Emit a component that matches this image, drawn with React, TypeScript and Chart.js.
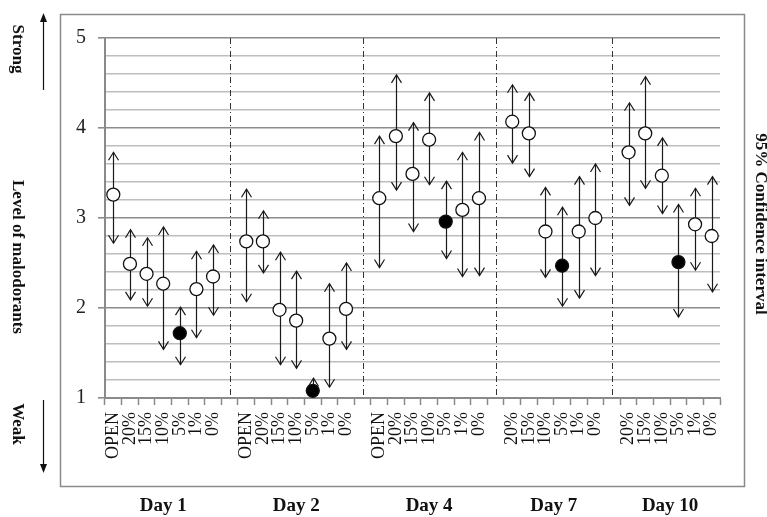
import React, { useEffect, useRef } from 'react';
import { Chart, registerables } from 'chart.js';

Chart.register(...registerables);

// ---- data ----
const groupNames = ['Day 1', 'Day 2', 'Day 4', 'Day 7', 'Day 10'];

const labelsDay1 = ['OPEN', '20%', '15%', '10%', '5%', '1%', '0%'];
const labelsDay2 = ['OPEN', '20%', '15%', '10%', '5%', '1%', '0%'];
const labelsDay4 = ['OPEN', '20%', '15%', '10%', '5%', '1%', '0%'];
const labelsDay7 = ['20%', '15%', '10%', '5%', '1%', '0%'];
const labelsDay10 = ['20%', '15%', '10%', '5%', '1%', '0%'];

const meanDay1 = [3.26, 2.49, 2.38, 2.27, 1.72, 2.21, 2.35];
const upperDay1 = [3.73, 2.87, 2.78, 2.9, 2.01, 2.63, 2.7];
const lowerDay1 = [2.72, 2.09, 2.02, 1.54, 1.37, 1.67, 1.92];

const meanDay2 = [2.74, 2.74, 1.98, 1.86, 1.08, 1.66, 1.99];
const upperDay2 = [3.32, 3.08, 2.62, 2.41, 1.22, 2.27, 2.5];
const lowerDay2 = [2.07, 2.39, 1.37, 1.33, 0.9, 1.12, 1.54];

const meanDay4 = [3.22, 3.91, 3.49, 3.87, 2.96, 3.09, 3.22];
const upperDay4 = [3.91, 4.59, 4.06, 4.39, 3.41, 3.73, 3.95];
const lowerDay4 = [2.45, 3.31, 2.85, 3.37, 2.55, 2.35, 2.36];

const meanDay7 = [4.07, 3.94, 2.85, 2.47, 2.85, 3.0];
const upperDay7 = [4.48, 4.39, 3.34, 3.12, 3.46, 3.6];
const lowerDay7 = [3.61, 3.46, 2.34, 2.02, 2.11, 2.36];

const meanDay10 = [3.73, 3.94, 3.47, 2.51, 2.93, 2.8];
const upperDay10 = [4.28, 4.57, 3.89, 3.15, 3.33, 3.46];
const lowerDay10 = [3.14, 3.33, 3.05, 1.9, 2.42, 2.18];

const highlightLabel = '5%';
const yMin = 1;
const yMax = 5;
const yStep = 0.2;

const leftTitle = 'Level of malodorants';
const rightTitle = '95% Confidence interval';
const strongText = 'Strong';
const weakText = 'Weak';

// ---- build flattened category arrays (blank separator category between days) ----
const groups = [
  { name: groupNames[0], labels: labelsDay1, mean: meanDay1, upper: upperDay1, lower: lowerDay1 },
  { name: groupNames[1], labels: labelsDay2, mean: meanDay2, upper: upperDay2, lower: lowerDay2 },
  { name: groupNames[2], labels: labelsDay4, mean: meanDay4, upper: upperDay4, lower: lowerDay4 },
  { name: groupNames[3], labels: labelsDay7, mean: meanDay7, upper: upperDay7, lower: lowerDay7 },
  { name: groupNames[4], labels: labelsDay10, mean: meanDay10, upper: upperDay10, lower: lowerDay10 },
];

const categories: string[] = [];
const means: (number | null)[] = [];
const uppers: (number | null)[] = [];
const lowers: (number | null)[] = [];
const separators: number[] = [];
const groupCenters: { name: string; center: number }[] = [];

groups.forEach((g, gi) => {
  if (gi > 0) {
    separators.push(categories.length);
    categories.push('');
    means.push(null);
    uppers.push(null);
    lowers.push(null);
  }
  const start = categories.length;
  g.labels.forEach((l, i) => {
    categories.push(l);
    means.push(g.mean[i]);
    uppers.push(g.upper[i]);
    lowers.push(g.lower[i]);
  });
  groupCenters.push({ name: g.name, center: start + (g.labels.length - 1) / 2 });
});

const SERIF = '"Liberation Serif", "DejaVu Serif", serif';

const isInt = (v: number) => Math.abs(v - Math.round(v)) < 1e-6;

const overlayPlugin = {
  id: 'overlay',
  beforeDatasetsDraw(chart: any) {
    const { ctx, chartArea, scales } = chart;
    const x = scales.x;
    const y = scales.y;
    ctx.save();
    ctx.beginPath();
    ctx.rect(chartArea.left, chartArea.top, chartArea.right - chartArea.left, chartArea.bottom - chartArea.top);
    ctx.clip();

    // dash-dot separators
    ctx.strokeStyle = '#333';
    ctx.lineWidth = 1;
    ctx.setLineDash([6, 3, 1, 3]);
    separators.forEach((i) => {
      const px = Math.round(x.getPixelForValue(i)) + 0.5;
      ctx.beginPath();
      ctx.moveTo(px, y.getPixelForValue(yMax));
      ctx.lineTo(px, y.getPixelForValue(yMin));
      ctx.stroke();
    });
    ctx.setLineDash([]);

    // confidence interval arrows
    ctx.strokeStyle = '#1a1a1a';
    ctx.lineWidth = 1.2;
    means.forEach((m, i) => {
      if (m == null) return;
      const px = Math.round(x.getPixelForValue(i)) + 0.5;
      const yh = y.getPixelForValue(uppers[i] as number);
      const yl = y.getPixelForValue(lowers[i] as number);
      ctx.beginPath();
      ctx.moveTo(px, yh);
      ctx.lineTo(px, yl);
      ctx.stroke();
      ctx.beginPath();
      ctx.moveTo(px - 5, yh + 8);
      ctx.lineTo(px, yh);
      ctx.lineTo(px + 5, yh + 8);
      ctx.stroke();
      ctx.beginPath();
      ctx.moveTo(px - 5, yl - 8);
      ctx.lineTo(px, yl);
      ctx.lineTo(px + 5, yl - 8);
      ctx.stroke();
    });
    ctx.restore();
  },
  afterDraw(chart: any) {
    const { ctx, scales } = chart;
    const x = scales.x;
    ctx.save();
    // outer frame
    ctx.strokeStyle = '#8a8a8a';
    ctx.lineWidth = 1.5;
    ctx.strokeRect(60.5, 14.5, 684, 472);

    // day labels
    ctx.fillStyle = '#111';
    ctx.font = `bold 19px ${SERIF}`;
    ctx.textAlign = 'center';
    ctx.textBaseline = 'middle';
    groupCenters.forEach((g) => {
      ctx.fillText(g.name, x.getPixelForValue(g.center), 506);
    });

    // vertical texts (reading downwards)
    ctx.font = `bold 17px ${SERIF}`;
    const vtext = (t: string, cx: number, cy: number) => {
      ctx.save();
      ctx.translate(cx, cy);
      ctx.rotate(Math.PI / 2);
      ctx.fillText(t, 0, 0);
      ctx.restore();
    };
    vtext(strongText, 17, 49);
    vtext(leftTitle, 17, 257);
    vtext(weakText, 17, 424);
    vtext(rightTitle, 760, 224);

    // strong / weak arrows
    ctx.strokeStyle = '#111';
    ctx.lineWidth = 1.2;
    ctx.beginPath();
    ctx.moveTo(43.5, 90);
    ctx.lineTo(43.5, 20);
    ctx.stroke();
    ctx.beginPath();
    ctx.moveTo(43.5, 13);
    ctx.lineTo(40, 22);
    ctx.lineTo(47, 22);
    ctx.closePath();
    ctx.fill();

    ctx.beginPath();
    ctx.moveTo(43.5, 400);
    ctx.lineTo(43.5, 466);
    ctx.stroke();
    ctx.beginPath();
    ctx.moveTo(43.5, 473);
    ctx.lineTo(40, 464);
    ctx.lineTo(47, 464);
    ctx.closePath();
    ctx.fill();
    ctx.restore();
  },
};

export default function App() {
  const canvasRef = useRef<HTMLCanvasElement | null>(null);

  useEffect(() => {
    if (!canvasRef.current) return;
    const chart = new Chart(canvasRef.current, {
      type: 'line',
      data: {
        labels: categories,
        datasets: [
          {
            label: 'mean',
            data: means,
            showLine: false,
            pointRadius: 6.5,
            pointHoverRadius: 6.5,
            pointBorderWidth: 1.3,
            pointBorderColor: '#111',
            pointBackgroundColor: (c: any) => (categories[c.dataIndex] === highlightLabel ? '#000' : '#fff'),
          } as any,
        ],
      },
      options: {
        responsive: false,
        animation: false,
        devicePixelRatio: 1,
        layout: { padding: { left: 60, right: 47, top: 38, bottom: 39 } },
        plugins: { legend: { display: false }, tooltip: { enabled: false } },
        scales: {
          x: {
            type: 'category',
            offset: true,
            grid: {
              offset: true,
              drawOnChartArea: false,
              drawTicks: true,
              tickLength: 7,
              tickColor: '#8a8a8a',
              tickWidth: 1.5,
            },
            border: { color: '#8a8a8a', width: 2 },
            ticks: {
              autoSkip: false,
              minRotation: 90,
              maxRotation: 90,
              padding: 7,
              color: '#111',
              font: { family: SERIF, size: 18 },
            },
            afterFit(scale: any) {
              scale.height = 80;
              scale.paddingLeft = 0;
              scale.paddingRight = 0;
            },
          },
          y: {
            min: yMin,
            max: yMax,
            grid: {
              color: (c: any) => (c.tick && isInt(c.tick.value) ? '#8c8c8c' : '#bdbdbd'),
              lineWidth: 1.6,
              tickLength: 7,
              tickColor: (c: any) => (c.tick && isInt(c.tick.value) ? '#8c8c8c' : 'rgba(0,0,0,0)'),
            },
            border: { color: '#8a8a8a', width: 2 },
            ticks: {
              stepSize: yStep,
              autoSkip: false,
              padding: 12,
              color: '#222',
              font: { family: SERIF, size: 20 },
              callback: (v: any) => (isInt(Number(v)) ? String(Math.round(Number(v))) : ''),
            },
            afterFit(scale: any) {
              scale.width = 45;
              scale.paddingTop = 0;
              scale.paddingBottom = 0;
            },
          },
        },
      },
      plugins: [overlayPlugin],
    } as any);
    return () => chart.destroy();
  }, []);

  return (
    <div style={{ position: 'absolute', left: 0, top: 0, width: 767, height: 517, background: '#fff' }}>
      <canvas ref={canvasRef} width={767} height={517} style={{ width: 767, height: 517, display: 'block' }} />
    </div>
  );
}
